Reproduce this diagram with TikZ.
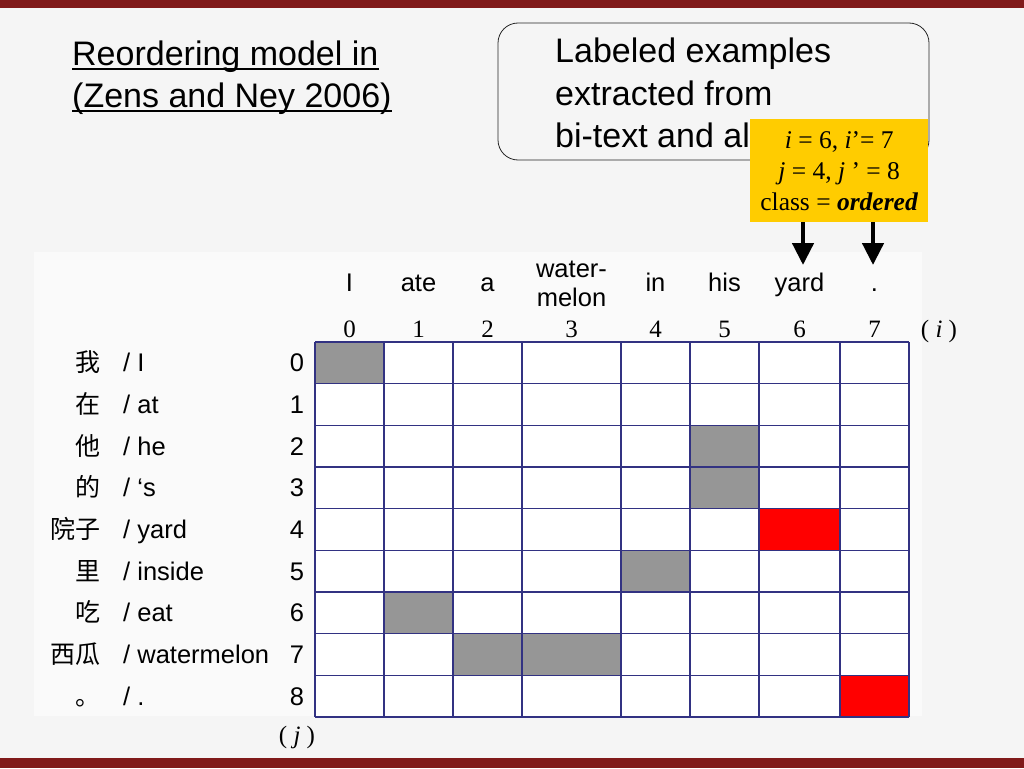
\documentclass[tikz,border=0pt]{standalone}
\usepackage{fontspec}
\setmainfont{Liberation Sans}
\newfontfamily\tms{Liberation Serif}
\newfontfamily\cjk{Noto Sans CJK SC}
\usetikzlibrary{arrows.meta}
\definecolor{barred}{RGB}{128,26,26}
\definecolor{pagebg}{RGB}{245,245,245}
\definecolor{panelbg}{RGB}{250,250,250}
\definecolor{gridblue}{RGB}{50,50,130}
\definecolor{cellgray}{RGB}{150,150,150}
\definecolor{notebox}{RGB}{255,204,0}
\tikzset{
	bigtext/.style={font=\fontsize{34}{42}\selectfont, inner sep=0pt, anchor=base west},
	word/.style={font=\fontsize{25.5}{29}\selectfont, inner sep=0pt, anchor=base},
	num/.style={font=\tms\fontsize{25}{27}\selectfont, inner sep=0pt, anchor=base},
	gridline/.style={gridblue, line width=1.3pt},
	fat/.style={line width=4.5pt, -{Triangle[length=22pt, width=21pt]}},
}
\begin{document}
\begin{tikzpicture}[x=1pt, y=-1pt]
	\fill[pagebg] (0, 0) rectangle (1024, 768);
	\useasboundingbox (0, 0) rectangle (1024, 768);
	\fill[barred] (0, 0) rectangle (1024, 8);
	\fill[barred] (0, 758) rectangle (1024, 768);
	\fill[panelbg] (34, 252) rectangle (922, 716);

	% title
	\node[bigtext] (t1) at (72, 65) {Reordering model in};
	\node[bigtext] (t2) at (72, 107) {(Zens and Ney 2006)};
	\draw[line width=1.6pt] ([yshift=-4pt]t1.base west) -- ([yshift=-4pt]t1.base east);
	\draw[line width=1.6pt] ([yshift=-4pt]t2.base west) -- ([yshift=-4pt]t2.base east);

	% box with labeled examples
	\draw[rounded corners=20pt, line width=0.8pt, black!85] (498, 23) rectangle (929, 160);
	\node[bigtext] (b1) at (555, 63) {Labeled examples};
	\node[bigtext] (b2) at (555, 105) {extracted from};
	\node[bigtext] (b3) at (555, 147) {bi-text and al};

	\node[fill=notebox, anchor=north west, minimum width=178pt, minimum height=103pt, inner sep=0pt,
		align=center, font=\tms\fontsize{25.5}{31}\selectfont] (note) at (750, 119)
		{\textit{i} = 6, \textit{i}’= 7\\ \textit{j} = 4, \textit{j} ’ = 8\\ class = \textbf{\textit{ordered}}};

	% english words and positions
	\foreach \i/\x/\w in {0/349.5/I, 1/418.5/ate, 2/487.5/a, 4/655.5/in, 5/724.5/his, 6/799.5/yard, 7/874.5/.}
		\node[word] (w\i) at (\x, 291) {\w};
	\node[word, anchor=center, align=center] (w3) at (571.5, 283.5) {water-\\melon};
	\foreach \i/\x in {0/349.5, 1/418.5, 2/487.5, 3/571.5, 4/655.5, 5/724.5, 6/799.5, 7/874.5}
		\node[num] (n\i) at (\x, 337) {\i};
	\node[num] (ilab) at (939, 337) {( \textit{i} )};

	\coordinate (a6) at (803, 265);
	\coordinate (a7) at (873, 265);
	\draw[fat] (a6 |- note.south) -- (a6);
	\draw[fat] (a7 |- note.south) -- (a7);

	% chinese words and positions
	\foreach \j/\c/\e in {0/我/I, 1/在/at, 2/他/he, 3/的/‘s, 4/院子/yard, 5/里/inside, 6/吃/eat, 7/西瓜/watermelon, 8/。/.} {
		\node[word, anchor=base east, font=\cjk\fontsize{25}{29}\selectfont] (z\j) at (101, {342+41.667*(\j+0.5)+9}) {\c};
		\node[word, anchor=base west] (e\j) at (123, {342+41.667*(\j+0.5)+9}) {/ \e};
		\node[word] (m\j) at (297, {342+41.667*(\j+0.5)+9}) {\j};
	}
	\node[num] (jlab) at (297, 743) {( \textit{j} )};

	% alignment grid
	\fill[white] (315, 342) rectangle (909, 717);
	\foreach \xa/\xb/\r/\col in {315/384/0/cellgray, 690/759/2/cellgray, 690/759/3/cellgray, 759/840/4/red,
		621/690/5/cellgray, 384/453/6/cellgray, 453/621/7/cellgray, 840/909/8/red}
		\fill[\col] (\xa, {342+41.667*\r}) rectangle (\xb, {342+41.667*(\r+1)});
	\foreach \x in {315, 384, 453, 522, 621, 690, 759, 840, 909}
		\draw[gridline] (\x, 342) -- (\x, 717);
	\foreach \r in {0,...,9}
		\draw[gridline] (315, {342+41.667*\r}) -- (909, {342+41.667*\r});
\end{tikzpicture}
\end{document}
